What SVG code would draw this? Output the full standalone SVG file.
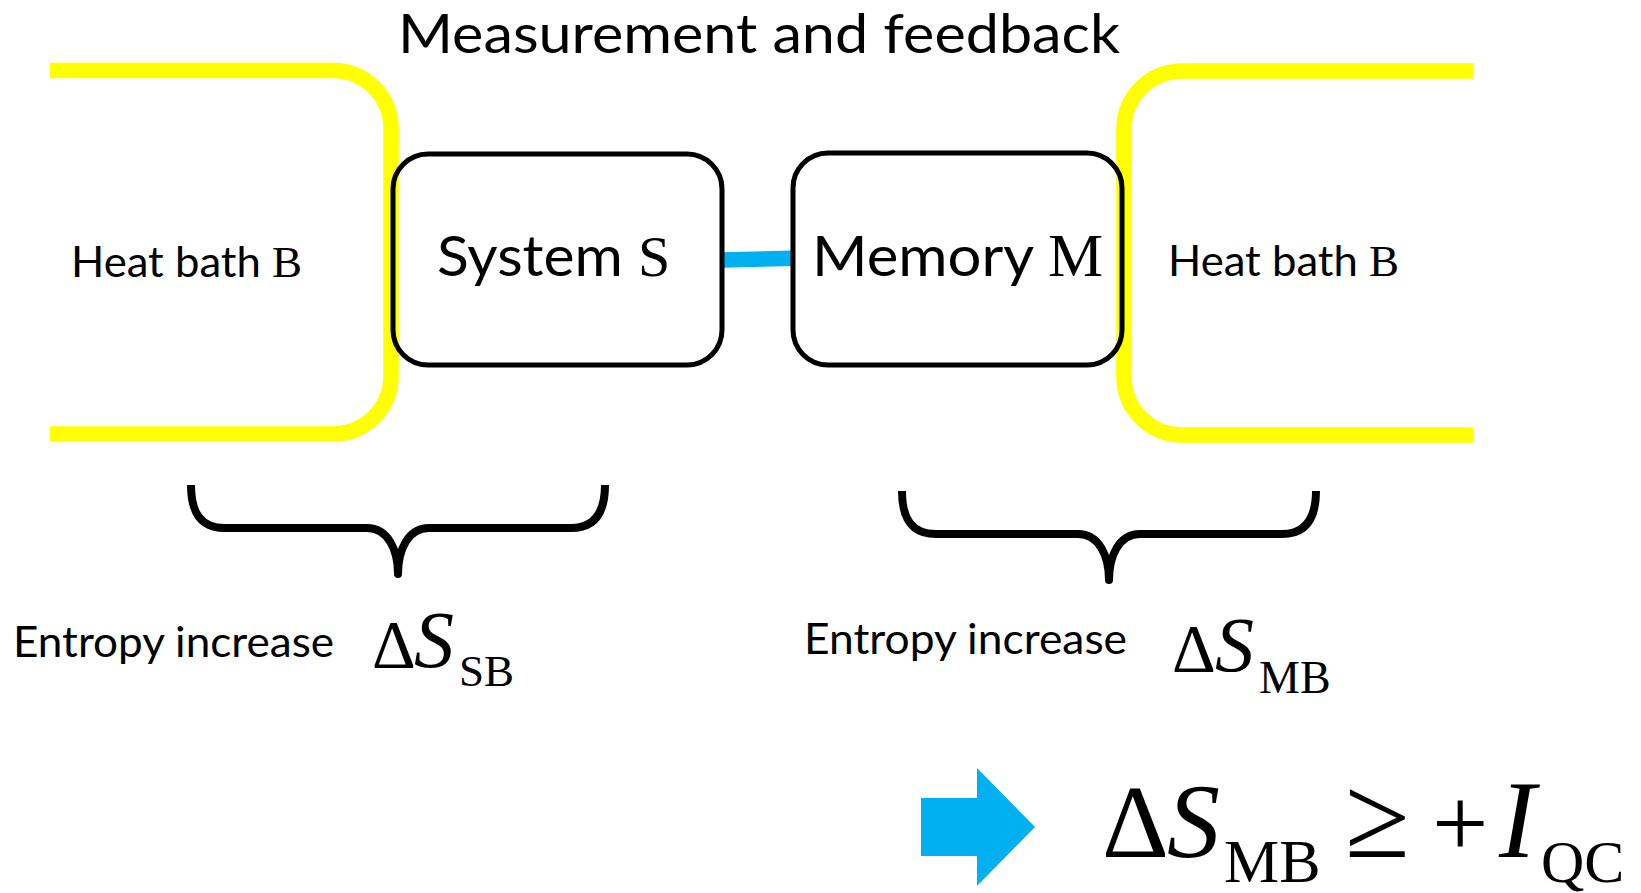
<svg xmlns="http://www.w3.org/2000/svg" width="1641" height="893" viewBox="0 0 1641 893">
  <defs>
    <style>
      .sans { font-family: Lato, "Liberation Sans", sans-serif; fill: #000; }
      .serif { font-family: "Liberation Serif", "Times New Roman", serif; fill: #000; }
      .it { font-style: italic; }
      .bath { fill: none; stroke: #FFFF00; stroke-width: 15.5; }
      .box { fill: none; stroke: #000; stroke-width: 5; }
      .brace { fill: none; stroke: #000; stroke-width: 8; stroke-linejoin: round; }
      .link { fill: none; stroke: #00B0F0; stroke-width: 15.5; }
      .fill-blue { fill: #00B0F0; }
    </style>
    <!-- underbrace: left end at origin, tip at (207,89) -->
    <path id="brace" d="M0,0 C0,27 9,43 34,43 H176 C197,43 207,65 207,89 C207,65 217,43 238,43 H380 C404,43 414,27 414,0"/>
  </defs>

  <rect width="1641" height="893" fill="#fff"/>

  <text id="title" class="sans" x="398" y="53" font-size="55" textLength="722" lengthAdjust="spacingAndGlyphs">Measurement and feedback</text>

  <!-- heat baths -->
  <g id="heat-bath-left">
    <path class="bath" d="M50,70.5 H333 A58,58 0 0 1 391,128.5 V376 A58,58 0 0 1 333,434 H50"/>
    <text class="sans" x="71" y="277" font-size="42"><tspan textLength="201" lengthAdjust="spacingAndGlyphs">Heat bath </tspan><tspan class="serif" x="272" font-size="45">B</tspan></text>
  </g>
  <g id="heat-bath-right">
    <path class="bath" d="M1473,71 H1182 A58,58 0 0 0 1124,129 V377 A58,58 0 0 0 1182,435 H1473"/>
    <text class="sans" x="1168" y="276" font-size="42"><tspan textLength="201" lengthAdjust="spacingAndGlyphs">Heat bath </tspan><tspan class="serif" x="1369" font-size="45">B</tspan></text>
  </g>

  <!-- coupling between system and memory -->
  <g id="connectors">
    <line class="link" x1="722" y1="260" x2="793" y2="258.3"/>
  </g>

  <g id="system-s">
    <rect class="box" x="393" y="154" width="329" height="211" rx="35"/>
    <text class="sans" x="437" y="276" font-size="57"><tspan textLength="201" lengthAdjust="spacingAndGlyphs">System </tspan><tspan class="serif" x="638" font-size="58">S</tspan></text>
  </g>
  <g id="memory-m">
    <rect class="box" x="793" y="153" width="329" height="212" rx="35"/>
    <text class="sans" x="812" y="276" font-size="57"><tspan textLength="236" lengthAdjust="spacingAndGlyphs">Memory </tspan><tspan class="serif" x="1048" font-size="62">M</tspan></text>
  </g>

  <!-- entropy braces and labels -->
  <g id="entropy-sb">
    <use href="#brace" class="brace" transform="translate(191,485)"/>
    <text class="sans" x="13" y="657" font-size="43" textLength="321" lengthAdjust="spacingAndGlyphs">Entropy increase</text>
    <text class="serif" y="667"><tspan x="372" font-size="68">Δ</tspan><tspan class="it" x="414" font-size="80">S</tspan><tspan x="459" y="686" font-size="45">SB</tspan></text>
  </g>
  <g id="entropy-mb">
    <use href="#brace" class="brace" transform="translate(711,6) translate(191,485)"/>
    <text class="sans" x="804" y="654" font-size="43" textLength="323" lengthAdjust="spacingAndGlyphs">Entropy increase</text>
    <text class="serif" y="671"><tspan x="1172" font-size="68">Δ</tspan><tspan class="it" x="1215" font-size="78">S</tspan><tspan x="1259" y="693" font-size="46">MB</tspan></text>
  </g>

  <!-- conclusion -->
  <g id="result">
    <polygon class="fill-blue" points="921,798 977,798 977,768 1035,827 977,886 977,856 921,856"/>
    <text class="serif" y="857"><tspan x="1102" font-size="104">Δ</tspan><tspan class="it" x="1167" font-size="106">S</tspan><tspan x="1224" y="882" font-size="62">MB</tspan><tspan x="1345" y="857" font-size="118">≥</tspan><tspan x="1432" font-size="100">+</tspan><tspan class="it" x="1499" font-size="110">I</tspan><tspan x="1541" y="882" font-size="60">QC</tspan></text>
  </g>
</svg>
